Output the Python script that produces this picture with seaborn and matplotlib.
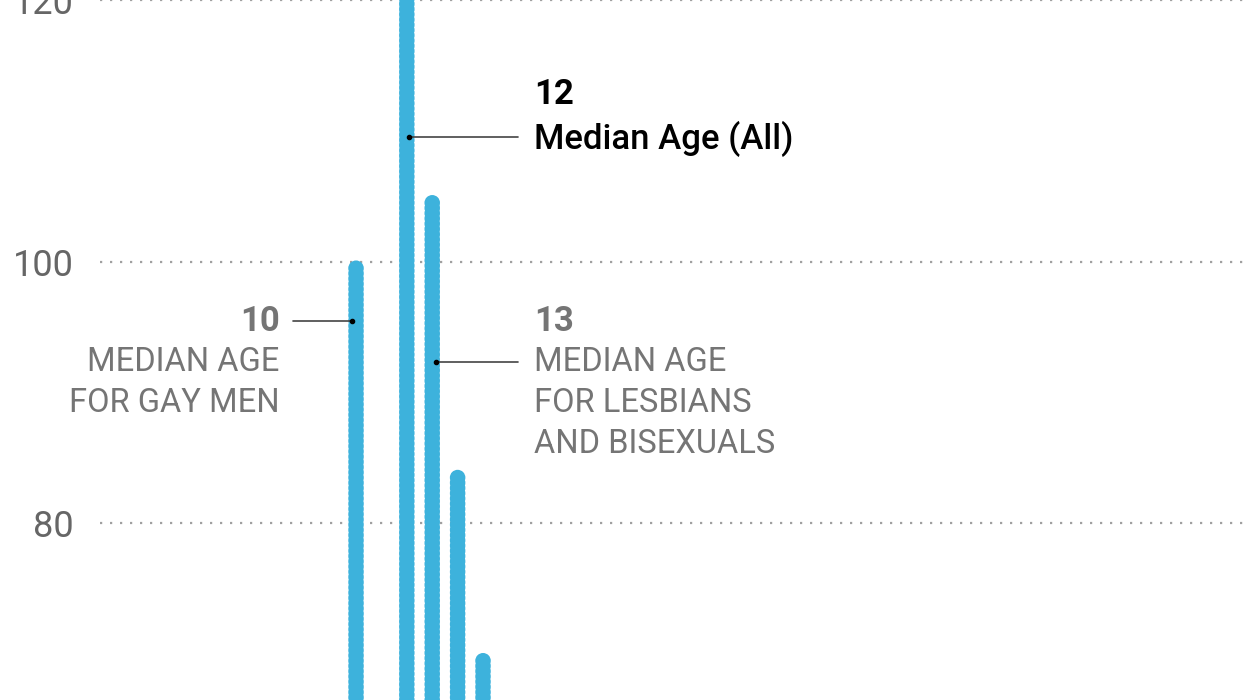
import numpy as np
import pandas as pd
import seaborn as sns
from matplotlib import pyplot as plt

# age at which respondents first felt they might be LGB (count of respondents)
ages = [10, 11, 12, 13, 14, 15, 16, 17]
counts = [100, 52, 125, 105, 84, 70, 45, 30]

y_ticks = [80, 100, 120]

median_all = 12
median_gay = 10
median_lb = 13

sns.set_style("white")
plt.rcParams['font.family'] = ['Roboto', 'DejaVu Sans']

# each bar is a stack of dots
rows = []
for a, n in zip(ages, counts):
    for y in np.arange(n - 0.5, 0, -0.4):
        rows.append({'age': a, 'y': y})
dots = pd.DataFrame(rows)

fig = plt.figure(figsize=(12.45, 7), dpi=100)
ax = fig.add_axes([100 / 1245, 0, 1145 / 1245, 1])

sns.scatterplot(data=dots, x='age', y='y', color='#3db2dc', s=125,
                edgecolor='none', linewidth=0, ax=ax, zorder=3)

ax.set_xlim(-0.08, 45.0)
ax.set_ylim(66.5, 118.7)
ax.set_yticks(y_ticks)
ax.set_yticklabels([str(t) for t in y_ticks])
ax.set_xticks([])
ax.set_xlabel('')
ax.set_ylabel('')
ax.tick_params(axis='y', length=0, pad=19, labelsize=26, labelcolor='#666666')
ax.yaxis.grid(True, linestyle=(0, (1, 3.5)), linewidth=1.6, color='#a0a0a0')
ax.set_axisbelow(True)
sns.despine(ax=ax, left=True, bottom=True)

# annotations
gy = '#757575'
ax.plot([median_all + 0.1, 16.38], [109.5, 109.5], color='#444444', lw=1.2, zorder=4)
ax.plot([median_all + 0.1], [109.5], 'o', color='black', ms=3, zorder=5)
ax.text(17, 112.8, str(median_all), fontsize=25, fontweight='bold', color='black', va='center')
ax.text(17, 109.4, 'Median Age (All)', fontsize=25, fontweight='medium', color='black', va='center')

ax.plot([7.52, median_gay - 0.15], [95.45, 95.45], color='#444444', lw=1.2, zorder=4)
ax.plot([median_gay - 0.15], [95.45], 'o', color='black', ms=3, zorder=5)
ax.text(7.0, 95.45, str(median_gay), fontsize=25, fontweight='bold', color=gy, va='center', ha='right')
ax.text(7.0, 92.35, 'MEDIAN AGE', fontsize=23.5, color=gy, va='center', ha='right')
ax.text(7.0, 89.17, 'FOR GAY MEN', fontsize=23.5, color=gy, va='center', ha='right')

ax.plot([median_lb + 0.15, 16.38], [92.35, 92.35], color='#444444', lw=1.2, zorder=4)
ax.plot([median_lb + 0.15], [92.35], 'o', color='black', ms=3, zorder=5)
ax.text(17, 95.45, str(median_lb), fontsize=25, fontweight='bold', color=gy, va='center')
ax.text(17, 92.35, 'MEDIAN AGE', fontsize=23.5, color=gy, va='center')
ax.text(17, 89.17, 'FOR LESBIANS', fontsize=23.5, color=gy, va='center')
ax.text(17, 86.06, 'AND BISEXUALS', fontsize=23.5, color=gy, va='center')

fig.savefig('out.png', dpi=100)
